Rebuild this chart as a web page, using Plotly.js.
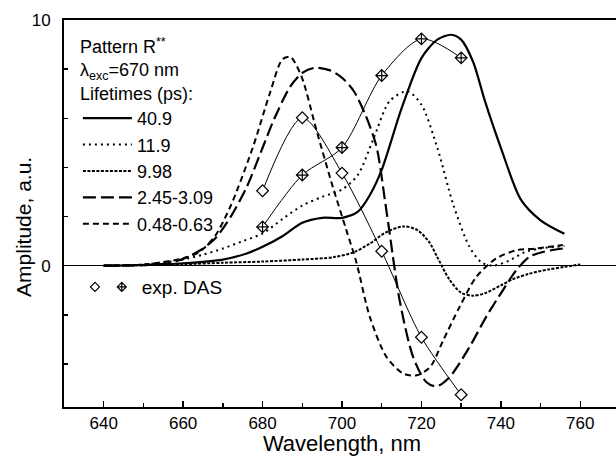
<!DOCTYPE html>
<html>
<head>
<meta charset="utf-8">
<script src="https://cdn.plot.ly/plotly-3.0.1.min.js"></script>
<style>
html,body{margin:0;padding:0;overflow:hidden;background:#fff;}
#chart{width:620px;height:456px;}
</style>
</head>
<body>
<div id="chart"></div>
<script>
// ---- Data ----
const wl40 = [640,650,660,670,676,680,685,690,695,700,704,707,710,715,720,724,727.5,730,733,736,740,745,750,756];
const amp40 = [0,0.03,0.1,0.25,0.5,0.77,1.2,1.75,1.95,1.95,2.2,2.87,3.9,6.4,8.45,9.2,9.4,9.2,8.3,6.7,4.8,2.7,1.85,1.3];

const wl119 = [640,650,659,665,670,675,680,685,690,695,700,704,708,712,716.5,720,724,728,732,735,738,742,746,750,756];
const amp119 = [0,0.05,0.22,0.45,0.7,1.0,1.31,1.9,2.45,2.8,3.1,3.7,5.2,6.7,7.1,6.55,4.8,2.5,0.8,0.15,0.0,0.2,0.55,0.7,0.8];

const wl998 = [640,650,660,670,680,690,698,703,707,711,715.5,719,722,724,727,730,733,736,740,743,747,752,756,760];
const amp998 = [0,0.02,0.06,0.12,0.17,0.25,0.35,0.55,0.9,1.35,1.6,1.45,0.95,0.35,-0.55,-1.1,-1.22,-1.12,-0.8,-0.55,-0.33,-0.15,-0.05,0.05];

const wl245 = [640,650,655,659,664,668,672,676,680,683,687,690,693,697,700,703,706,708.7,710.8,712,714.5,717.9,721.2,723.8,727.1,732.1,736.3,740.5,743.9,747.2,750.6,755.6];
const amp245 = [0,0.02,0.08,0.22,0.6,1.1,2.0,3.2,4.8,6.0,7.3,7.85,8.05,7.95,7.65,7.1,6.1,4.84,2.67,1.32,-1.4,-3.71,-4.73,-4.91,-4.53,-3.31,-2.08,-1.0,-0.18,0.36,0.56,0.7];

const wl048 = [640,650,655,660,664,668,672,677.6,681.8,685,687,689.8,693.6,697.7,701,703.6,707,711.2,715.4,718.8,722.2,725.5,729.6,733.8,738.8,743.9,748.9,755.6];
const amp048 = [0,0.05,0.15,0.3,0.55,1.2,2.45,4.84,7.0,8.4,8.5,7.7,5.5,3.2,1.5,0.15,-2.08,-3.71,-4.39,-4.46,-4.12,-3.03,-1.68,-0.46,0.29,0.63,0.7,0.84];

const dasWl = [680,690,700,710,720,730];
const dasOpen = [3.05,6.02,3.77,0.59,-2.91,-5.25];
const dasCross = [1.58,3.69,4.81,7.74,9.23,8.46];

const lifetimeLabels = ['40.9','11.9','9.98','2.45-3.09','0.48-0.63'];
const xTickStep = 20;

// ---- Traces ----
const FONT = 'Liberation Sans, Arial, Helvetica, sans-serif';
function curve(x, y, name, dash, width) {
  return {x: x, y: y, name: name, type: 'scatter', mode: 'lines',
    line: {color: 'black', width: width, dash: dash, shape: 'spline', smoothing: 0.8},
    legend: 'legend', hoverinfo: 'skip'};
}
const traces = [
  curve(wl40, amp40, lifetimeLabels[0], 'solid', 2.2),
  curve(wl119, amp119, lifetimeLabels[1], '2px,4px', 2),
  curve(wl998, amp998, lifetimeLabels[2], '3px,1.5px', 2),
  curve(wl245, amp245, lifetimeLabels[3], '13px,5px', 2.2),
  curve(wl048, amp048, lifetimeLabels[4], '6px,4px', 2),
  {x: dasWl, y: dasOpen, type: 'scatter', mode: 'lines+markers', showlegend: false,
   line: {color: 'black', width: 1, shape: 'spline', smoothing: 0.8},
   marker: {symbol: 'diamond', size: 9, color: 'white', line: {color: 'black', width: 1.2}}},
  {x: dasWl, y: dasCross, type: 'scatter', mode: 'lines+markers', showlegend: false,
   line: {color: 'black', width: 1, shape: 'spline', smoothing: 0.8},
   marker: {symbol: 'diamond-cross', size: 9, color: 'white', line: {color: 'black', width: 1.2}}},
  // legend-only entries for the experimental DAS
  {x: [null], y: [null], type: 'scatter', mode: 'markers', name: '\u200b', legend: 'legend3',
   marker: {symbol: 'diamond', size: 7, color: 'white', line: {color: 'black', width: 1.2}}},
  {x: [null], y: [null], type: 'scatter', mode: 'markers', name: 'exp. DAS', legend: 'legend2',
   marker: {symbol: 'diamond-cross', size: 7, color: 'white', line: {color: 'black', width: 1.2}}}
];

const layout = {
  width: 620, height: 456,
  margin: {l: 64, r: 0, t: 20, b: 49},
  paper_bgcolor: 'white', plot_bgcolor: 'white',
  font: {family: FONT, color: 'black', size: 17},
  showlegend: true,
  xaxis: {
    range: [630, 770], tick0: 640, dtick: xTickStep,
    ticks: 'inside', ticklen: 6, tickwidth: 1.5, tickcolor: 'black',
    minor: {dtick: 10, ticks: 'inside', ticklen: 4, tickwidth: 1.5, tickcolor: 'black'},
    showline: true, linewidth: 2, linecolor: 'black', mirror: true,
    showgrid: false, zeroline: false,
    tickfont: {family: FONT, size: 17, color: 'black'},
    title: {text: 'Wavelength, nm', font: {family: FONT, size: 22, color: 'black'}, standoff: 4}
  },
  yaxis: {
    range: [-5.75, 10], tick0: 0, dtick: 10,
    ticks: 'inside', ticklen: 6, tickwidth: 1.5, tickcolor: 'black',
    minor: {dtick: 2, ticks: 'inside', ticklen: 4, tickwidth: 1.5, tickcolor: 'black'},
    showline: true, linewidth: 2, linecolor: 'black', mirror: true,
    showgrid: false, zeroline: true, zerolinecolor: 'black', zerolinewidth: 1.5,
    tickfont: {family: FONT, size: 17, color: 'black'},
    ticklabelstandoff: 8
  },
  legend: {
    x: 0.025, y: 0.975, xanchor: 'left', yanchor: 'top',
    bgcolor: 'rgba(0,0,0,0)', borderwidth: 0,
    font: {family: FONT, size: 18, color: 'black'},
    title: {text: 'Pattern R<sup>**</sup><br>λ<sub>exc</sub>=670 nm<br>Lifetimes (ps):',
            font: {family: FONT, size: 18, color: 'black'}},
    tracegroupgap: 0, itemwidth: 49
  },
  legend2: {
    x: 0.068, y: 0.31, xanchor: 'left', yanchor: 'middle',
    bgcolor: 'rgba(0,0,0,0)',
    font: {family: FONT, size: 19, color: 'black'}
  },
  legend3: {
    x: 0.0198, y: 0.31, xanchor: 'left', yanchor: 'middle',
    bgcolor: 'rgba(0,0,0,0)',
    font: {family: FONT, size: 19, color: 'black'}
  },
  annotations: [{
    text: 'Amplitude, a.u.', textangle: -90, showarrow: false,
    xref: 'paper', yref: 'paper', x: -0.074, y: 0.465,
    xanchor: 'center', yanchor: 'middle',
    font: {family: FONT, size: 21, color: 'black'}
  }]
};

Plotly.newPlot('chart', traces, layout, {displayModeBar: false, staticPlot: true});
</script>
</body>
</html>
